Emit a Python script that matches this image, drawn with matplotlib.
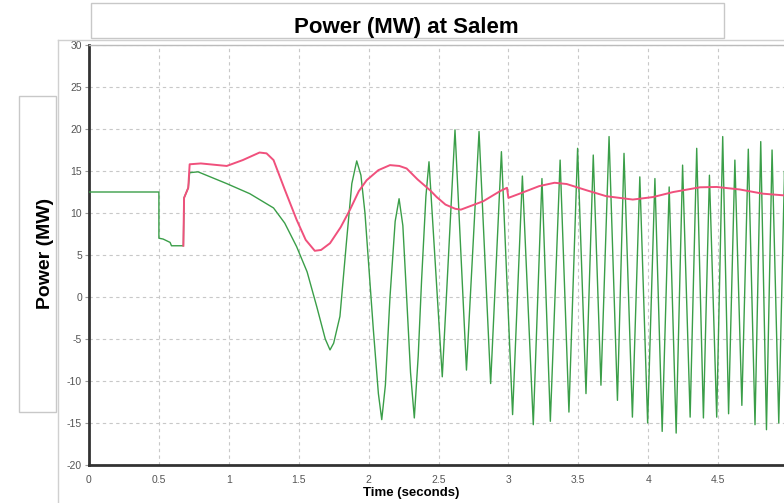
import numpy as np
import matplotlib
matplotlib.use("Agg")
import matplotlib.pyplot as plt
from matplotlib.patches import Rectangle
from matplotlib.lines import Line2D

plt.rcParams["font.family"] = ["Liberation Sans", "DejaVu Sans"]
plt.rcParams["axes.unicode_minus"] = False

# green trace
t_green = [0.0, 0.5, 0.5, 0.53, 0.58, 0.59, 0.675, 0.68, 0.71, 0.72, 0.78, 0.985,
           1.15, 1.32, 1.40, 1.485, 1.56, 1.63, 1.69, 1.724, 1.75, 1.795, 1.843,
           1.88, 1.915, 1.945, 1.974, 2.034, 2.07, 2.094, 2.12, 2.153, 2.19, 2.218,
           2.245, 2.272, 2.30, 2.327, 2.355, 2.379, 2.41, 2.432, 2.527, 2.618, 2.70,
           2.79, 2.873, 2.95, 3.03, 3.10, 3.178, 3.24, 3.30, 3.37, 3.433, 3.495,
           3.555, 3.607, 3.662, 3.72, 3.78, 3.827, 3.887, 3.94, 3.996, 4.048, 4.10,
           4.15, 4.20, 4.246, 4.30, 4.347, 4.395, 4.438, 4.49, 4.533, 4.575, 4.62,
           4.67, 4.716, 4.764, 4.805, 4.846, 4.886, 4.934, 4.975, 5.0]
p_green = [12.5, 12.5, 7.0, 6.9, 6.5, 6.1, 6.1, 11.8, 13.0, 14.8, 14.9, 13.5,
           12.3, 10.6, 8.8, 6.0, 3.0, -1.2, -5.0, -6.3, -5.5, -2.3, 6.8,
           13.5, 16.2, 14.5, 10.0, -3.9, -11.5, -14.6, -10.5, 0.0, 9.0, 11.7,
           8.5, 0.0, -9.0, -14.4, -7.0, 2.0, 12.0, 16.1, -9.5, 19.9, -8.7,
           19.7, -10.3, 17.3, -14.0, 14.4, -15.2, 14.1, -14.8, 16.3, -13.7, 17.7,
           -11.5, 16.9, -10.5, 19.1, -12.3, 17.1, -14.3, 14.3, -15.0, 14.1, -16.0,
           13.1, -16.2, 15.7, -14.3, 17.7, -14.4, 14.5, -14.3, 19.1, -13.9, 16.3,
           -12.9, 17.6, -15.2, 18.5, -15.8, 17.5, -15.0, 15.0, 0.0]

# pink trace
t_pink = [0.675, 0.68, 0.71, 0.72, 0.80, 0.985, 1.10, 1.22, 1.27, 1.32, 1.40,
          1.485, 1.55, 1.615, 1.66, 1.724, 1.80, 1.867, 1.93, 1.986, 2.07, 2.153,
          2.22, 2.272, 2.35, 2.44, 2.487, 2.55, 2.62, 2.66, 2.74, 2.82, 2.94, 2.99,
          3.0, 3.08, 3.22, 3.33, 3.417, 3.56, 3.70, 3.89, 4.035, 4.18, 4.37, 4.49,
          4.655, 4.82, 4.97, 5.0]
p_pink = [6.1, 11.8, 13.0, 15.8, 15.9, 15.6, 16.3, 17.2, 17.1, 16.3, 12.8,
          9.2, 6.8, 5.5, 5.6, 6.4, 8.3, 10.4, 12.6, 13.9, 15.1, 15.7,
          15.6, 15.3, 14.0, 12.7, 11.9, 11.0, 10.5, 10.4, 10.9, 11.4, 12.6, 13.0,
          11.8, 12.3, 13.2, 13.6, 13.45, 12.7, 12.0, 11.6, 11.9, 12.5, 13.06, 13.1,
          12.8, 12.3, 12.1, 12.05]

x_ticks = [0, 0.5, 1, 1.5, 2, 2.5, 3, 3.5, 4, 4.5, 5]
x_labels = ["0", "0.5", "1", "1.5", "2", "2.5", "3", "3.5", "4", "4.5", "5"]
y_ticks = [-20, -15, -10, -5, 0, 5, 10, 15, 20, 25, 30]

W, H = 784, 503
fig = plt.figure(figsize=(W / 100, H / 100), dpi=100)
ax = fig.add_axes([89 / W, 38 / H, 699 / W, 420 / H])

ax.plot(t_green, p_green, color="#3a9e48", lw=1.0, zorder=3)
ax.plot(t_pink, p_pink, color="#f0507c", lw=1.4, zorder=4)

ax.set_xlim(0, 5)
ax.set_ylim(-20, 30)
ax.set_xticks(x_ticks)
ax.set_xticklabels(x_labels)
ax.set_yticks(y_ticks)
ax.grid(True, color="#c8c8c8", lw=0.8, linestyle=(0, (3, 3)))
ax.tick_params(axis="y", length=3, width=0.8, color="#999999", pad=2,
               labelsize=7.5, labelcolor="#555555")
ax.tick_params(axis="x", length=0, pad=7, labelsize=7.5, labelcolor="#555555")
for s in ["left", "bottom"]:
    ax.spines[s].set_color("#333333")
    ax.spines[s].set_linewidth(2)
ax.spines["top"].set_color("#bbbbbb")
ax.spines["top"].set_linewidth(1)
ax.spines["right"].set_visible(False)

# frames around title, y label and plot area
fig.add_artist(Rectangle((91 / W, 1 - 38 / H), (724 - 91) / W, 35 / H,
                         transform=fig.transFigure, fill=False,
                         edgecolor="#c8c8c8", lw=1))
fig.add_artist(Rectangle((19 / W, 1 - 412 / H), 37 / W, 316 / H,
                         transform=fig.transFigure, fill=False,
                         edgecolor="#c8c8c8", lw=1))
fig.add_artist(Line2D([58 / W, 58 / W], [0, 1 - 40 / H],
                      transform=fig.transFigure, color="#d0d0d0", lw=1))
fig.add_artist(Line2D([58 / W, 1], [1 - 40 / H, 1 - 40 / H],
                      transform=fig.transFigure, color="#d0d0d0", lw=1))

fig.text(406 / W, 1 - 27 / H, "Power (MW) at Salem", ha="center", va="center",
         fontsize=16, fontweight="bold")
fig.text(45 / W, 1 - 253 / H, "Power (MW)", ha="center", va="center",
         rotation=90, fontsize=14, fontweight="bold")
fig.text(411 / W, 1 - 493 / H, "Time (seconds)", ha="center", va="center",
         fontsize=9.5, fontweight="bold")

fig.savefig("out.png", dpi=100)
